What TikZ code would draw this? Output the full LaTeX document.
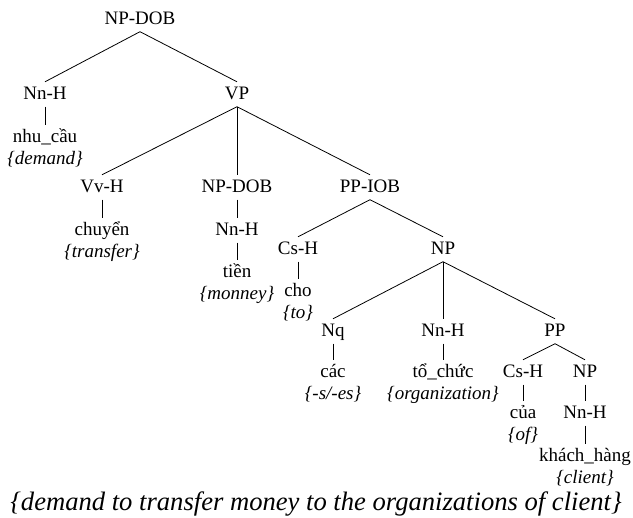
\documentclass[tikz,border=0pt]{standalone}
\usepackage{fontspec}
\setmainfont{Liberation Serif}
\begin{document}
\begin{tikzpicture}[x=1pt,y=-1pt,
  lab/.style={anchor=base, font=\fontsize{19}{22}\selectfont,
    text height=16pt, text depth=4.5pt, inner xsep=1pt, inner ysep=2pt},
  gloss/.style={anchor=base, font=\fontsize{19}{22}\selectfont\itshape, inner sep=0pt},
  branch/.style={line width=0.8pt}]
\useasboundingbox (0,0) rectangle (633,518);

% categories and words
\node[lab] (root)  at (140,25)  {NP-DOB};
\node[lab] (nn1)   at (45,100)  {Nn-H};
\node[lab] (vp)    at (237,100) {VP};
\node[lab] (w1)    at (45,143)  {nhu\_cầu};
\node[gloss] (g1)  at (45,165)  {\{demand\}};

\node[lab] (vv)    at (102,193) {Vv-H};
\node[lab] (npdob) at (237,193) {NP-DOB};
\node[lab] (ppiob) at (370,193) {PP-IOB};
\node[lab] (w2)    at (102,236) {chuyển};
\node[gloss] (g2)  at (102,258) {\{transfer\}};
\node[lab] (nn2)   at (237,236) {Nn-H};
\node[lab] (w3)    at (237,278) {tiền};
\node[gloss] (g3)  at (237,300) {\{monney\}};

\node[lab] (cs1)   at (298,255) {Cs-H};
\node[lab] (np1)   at (443,255) {NP};
\node[lab] (w4)    at (298,297) {cho};
\node[gloss] (g4)  at (298,319) {\{to\}};

\node[lab] (nq)    at (333,337) {Nq};
\node[lab] (nn3)   at (443,337) {Nn-H};
\node[lab] (pp)    at (555,337) {PP};
\node[lab] (w5)    at (333,378) {các};
\node[gloss] (g5)  at (333,400) {\{-s/-es\}};
\node[lab] (w6)    at (443,378) {tổ\_chức};
\node[gloss] (g6)  at (443,400) {\{organization\}};

\node[lab] (cs2)   at (523,378) {Cs-H};
\node[lab] (np2)   at (585,378) {NP};
\node[lab] (w7)    at (523,419) {của};
\node[gloss] (g7)  at (523,441) {\{of\}};
\node[lab] (nn4)   at (585,419) {Nn-H};
\node[lab] (w8)    at (585,462) {khách\_hàng};
\node[gloss] (g8)  at (585,484) {\{client\}};

\node[anchor=base, inner sep=0pt, font=\fontsize{26.6}{30}\selectfont\itshape] (tr)
  at (316,511) {\{demand to transfer money to the organizations of client\}};

% branches
\draw[branch] (root.south) -- (nn1.north);
\draw[branch] (root.south) -- (vp.north);
\draw[branch] (nn1.south) -- (w1.north);
\draw[branch] (vp.south) -- (vv.north);
\draw[branch] (vp.south) -- (npdob.north);
\draw[branch] (vp.south) -- (ppiob.north);
\draw[branch] (vv.south) -- (w2.north);
\draw[branch] (npdob.south) -- (nn2.north);
\draw[branch] (nn2.south) -- (w3.north);
\draw[branch] (ppiob.south) -- (cs1.north);
\draw[branch] (ppiob.south) -- (np1.north);
\draw[branch] (cs1.south) -- (w4.north);
\draw[branch] (np1.south) -- (nq.north);
\draw[branch] (np1.south) -- (nn3.north);
\draw[branch] (np1.south) -- (pp.north);
\draw[branch] (nq.south) -- (w5.north);
\draw[branch] (nn3.south) -- (w6.north);
\draw[branch] (pp.south) -- (cs2.north);
\draw[branch] (pp.south) -- (np2.north);
\draw[branch] (cs2.south) -- (w7.north);
\draw[branch] (np2.south) -- (nn4.north);
\draw[branch] (nn4.south) -- (w8.north);
\end{tikzpicture}
\end{document}
